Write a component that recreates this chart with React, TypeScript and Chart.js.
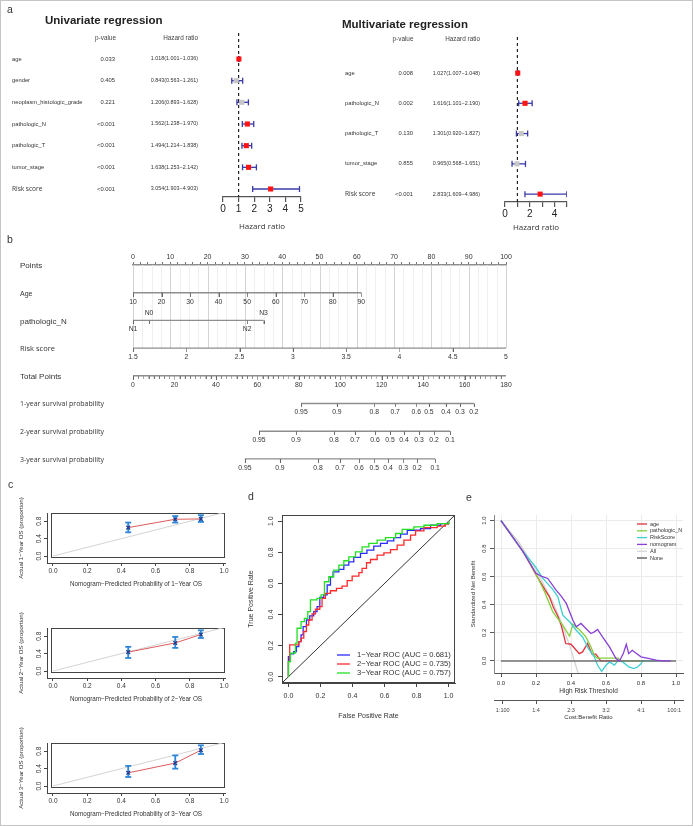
import React, { useEffect, useRef } from "react";
import { Chart, registerables } from "chart.js";

Chart.register(...registerables);

const SANS = '"Liberation Sans", Arial, Helvetica, sans-serif';
const OPEN = '"Open Sans", "Liberation Sans", sans-serif';
Chart.defaults.font.family = SANS;
Chart.defaults.color = "#333";

// ===================== a: Cox regression =====================
const HR_TICKS = [0, 1, 2, 3, 4, 5];

const UNI_VARS = ["age", "gender", "neoplasm_histologic_grade", "pathologic_N", "pathologic_T", "tumor_stage", "Risk score"];
const UNI_P = ["0.033", "0.405", "0.221", "<0.001", "<0.001", "<0.001", "<0.001"];
const UNI_HR = [1.018, 0.843, 1.206, 1.562, 1.494, 1.638, 3.054];
const UNI_LO = [1.001, 0.563, 0.893, 1.238, 1.214, 1.253, 1.903];
const UNI_HI = [1.036, 1.261, 1.628, 1.97, 1.838, 2.142, 4.903];
const UNI_SIG = [true, false, false, true, true, true, true];

const MULTI_VARS = ["age", "pathologic_N", "pathologic_T", "tumor_stage", "Risk score"];
const MULTI_P = ["0.008", "0.002", "0.130", "0.855", "<0.001"];
const MULTI_HR = [1.027, 1.616, 1.301, 0.965, 2.833];
const MULTI_LO = [1.007, 1.101, 0.92, 0.568, 1.609];
const MULTI_HI = [1.048, 2.19, 1.827, 1.651, 4.986];
const MULTI_SIG = [true, true, false, false, true];

// ===================== b: nomogram =====================
const POINTS_MAX = 100;
const POINT_TICK_STEP = 2;
const POINT_LABEL_STEP = 10;
const POINT_GRID_STEP = 2.5;
const AGE_TICKS = [10, 20, 30, 40, 50, 60, 70, 80, 90];
const AGE_MAX_POINTS = 61.2;
const PN_LEVELS = ["N1", "N0", "N2", "N3"];
const PN_POINTS = [0, 4.3, 30.6, 35];
const PN_SIDE = ["below", "above", "below", "above"];
const RISK_TICKS = [1.5, 2, 2.5, 3, 3.5, 4, 4.5, 5];
const TOTAL_MAX = 180;
const TOTAL_TICK_STEP = 2.5;
const TOTAL_LABEL_STEP = 20;
const SURV1_PROB = [0.95, 0.9, 0.8, 0.7, 0.6, 0.5, 0.4, 0.3, 0.2];
const SURV1_TP = [81.1, 98.4, 116.4, 126.5, 136.7, 142.8, 151.0, 157.8, 164.5];
const SURV2_PROB = [0.95, 0.9, 0.8, 0.7, 0.6, 0.5, 0.4, 0.3, 0.2, 0.1];
const SURV2_TP = [60.8, 78.7, 97.0, 107.1, 116.8, 124.0, 130.8, 138.0, 145.3, 153.0];
const SURV3_PROB = [0.95, 0.9, 0.8, 0.7, 0.6, 0.5, 0.4, 0.3, 0.2, 0.1];
const SURV3_TP = [54.0, 70.9, 89.3, 99.9, 109.1, 116.4, 123.1, 130.4, 137.1, 145.8];
const NOMO_ROWS = ["Points", "Age", "pathologic_N", "Risk score", "Total Points", "1-year survival probability", "2-year survival probability", "3-year survival probability"];
const NOMO_ROW_FONTS = [`8px ${SANS}`, `7px ${SANS}`, `8px ${SANS}`, `7.5px ${OPEN}`, `8px ${SANS}`, `7px ${OPEN}`, `7px ${OPEN}`, `7px ${OPEN}`];

// ===================== c: calibration =====================
const CAL_X = [0.44, 0.715, 0.865];
const CAL1_Y = [0.654, 0.846, 0.854];
const CAL1_LO = [0.546, 0.77, 0.785];
const CAL1_HI = [0.77, 0.92, 0.94];
const CAL2_Y = [0.436, 0.646, 0.84];
const CAL2_LO = [0.3, 0.533, 0.76];
const CAL2_HI = [0.557, 0.784, 0.937];
const CAL3_Y = [0.304, 0.528, 0.824];
const CAL3_LO = [0.208, 0.4, 0.736];
const CAL3_HI = [0.464, 0.704, 0.936];
const UNIT_TICKS = [0, 0.2, 0.4, 0.6, 0.8, 1.0];
const CAL_Y_TICKS = [0, 0.4, 0.8];

// ===================== d: ROC =====================
const ROC1_FPR = [0, 0, 0.0125, 0.033, 0.05, 0.065, 0.079, 0.092, 0.1125, 0.133, 0.158, 0.179, 0.196, 0.221, 0.242, 0.2625, 0.279, 0.315, 0.346, 0.377, 0.408, 0.45, 0.49, 0.533, 0.575, 0.617, 0.658, 0.7, 0.742, 0.825, 0.8875, 0.95, 1.0];
const ROC1_TPR = [0, 0.13, 0.147, 0.162, 0.194, 0.226, 0.269, 0.323, 0.365, 0.391, 0.419, 0.451, 0.511, 0.526, 0.59, 0.643, 0.675, 0.69, 0.718, 0.739, 0.767, 0.793, 0.814, 0.84, 0.857, 0.874, 0.895, 0.917, 0.942, 0.953, 0.974, 0.985, 1.0];
const ROC2_FPR = [0, 0, 0.008, 0.065, 0.079, 0.096, 0.1125, 0.127, 0.148, 0.169, 0.196, 0.21, 0.231, 0.2625, 0.3, 0.335, 0.367, 0.398, 0.44, 0.46, 0.4875, 0.5125, 0.554, 0.596, 0.6375, 0.679, 0.721, 0.7625, 0.794, 0.846, 0.929, 0.98, 1.0];
const ROC2_TPR = [0, 0.098, 0.205, 0.226, 0.248, 0.291, 0.333, 0.365, 0.404, 0.434, 0.451, 0.504, 0.536, 0.553, 0.568, 0.583, 0.618, 0.647, 0.669, 0.697, 0.733, 0.754, 0.782, 0.797, 0.818, 0.846, 0.878, 0.91, 0.938, 0.959, 0.968, 0.981, 1.0];
const ROC3_FPR = [0, 0, 0.0125, 0.044, 0.054, 0.079, 0.1, 0.121, 0.1375, 0.179, 0.204, 0.225, 0.252, 0.283, 0.315, 0.346, 0.377, 0.419, 0.46, 0.502, 0.554, 0.606, 0.669, 0.71, 0.783, 0.846, 0.929, 1.0];
const ROC3_TPR = [0, 0.098, 0.152, 0.216, 0.312, 0.355, 0.376, 0.419, 0.494, 0.504, 0.526, 0.611, 0.643, 0.686, 0.718, 0.746, 0.771, 0.803, 0.835, 0.857, 0.878, 0.895, 0.921, 0.947, 0.964, 0.974, 0.985, 1.0];
const ROC_LABELS = ["1\u2212Year ROC (AUC = 0.681)", "2\u2212Year ROC (AUC = 0.735)", "3\u2212Year ROC (AUC = 0.757)"];
const ROC_COLORS = ["#2b2bff", "#ff2b2b", "#22e022"];

// ===================== e: decision curve =====================
const DCA_AGE_X = [0, 0.12, 0.14, 0.2, 0.25, 0.277, 0.3, 0.325, 0.345, 0.359, 0.37, 0.4, 0.447, 0.466, 0.495, 0.52, 0.542, 0.57, 0.68];
const DCA_AGE_Y = [1, 0.79, 0.75, 0.615, 0.51, 0.457, 0.38, 0.319, 0.25, 0.181, 0.124, 0.119, 0.052, 0.064, 0.124, 0.048, 0.048, 0.0, 0.0];
const DCA_PN_X = [0, 0.12, 0.14, 0.2, 0.25, 0.296, 0.353, 0.392, 0.411, 0.447, 0.485, 0.514, 0.533, 0.55, 0.67, 0.68, 0.82];
const DCA_PN_Y = [1, 0.79, 0.75, 0.62, 0.49, 0.35, 0.255, 0.176, 0.262, 0.224, 0.171, 0.1, 0.04, 0.02, 0.02, 0.0, 0.0];
const DCA_RS_X = [0, 0.12, 0.2, 0.238, 0.296, 0.325, 0.353, 0.392, 0.43, 0.466, 0.485, 0.5, 0.533, 0.552, 0.575, 0.6, 0.62, 0.648, 0.667, 0.696, 0.73, 0.76, 0.78, 0.8, 0.81, 0.9];
const DCA_RS_Y = [1, 0.79, 0.667, 0.59, 0.51, 0.457, 0.326, 0.279, 0.219, 0.171, 0.124, 0.088, 0.029, -0.031, -0.075, -0.031, -0.007, -0.03, 0.0, -0.007, -0.043, -0.055, -0.043, -0.02, 0.0, 0.0];
const DCA_NOMO_X = [0, 0.12, 0.2, 0.229, 0.267, 0.315, 0.344, 0.373, 0.411, 0.43, 0.457, 0.485, 0.514, 0.533, 0.552, 0.58, 0.62, 0.657, 0.677, 0.7, 0.716, 0.73, 0.75, 0.78, 0.8, 0.848, 0.886, 0.925, 0.97];
const DCA_NOMO_Y = [1, 0.79, 0.625, 0.605, 0.588, 0.505, 0.462, 0.41, 0.29, 0.243, 0.267, 0.231, 0.195, 0.207, 0.224, 0.171, 0.1, 0.017, 0.0, 0.057, 0.119, 0.052, 0.076, 0.048, 0.029, 0.017, 0.005, 0.0, 0.0];
const DCA_ALL_X = [0, 0.1, 0.2, 0.3, 0.35, 0.4, 0.44];
const DCA_ALL_Y = [1, 0.85, 0.65, 0.41, 0.26, 0.08, -0.086];
const DCA_NONE_X = [0, 1];
const DCA_NONE_Y = [0, 0];
const DCA_LABELS = ["age", "pathologic_N", "RiskScore", "nomogram", "All", "None"];
const DCA_COLORS = ["#e3303c", "#84cf3c", "#3ccfd2", "#8a3fd8", "#d2d2d2", "#707070"];
const CB_VALUES = [0.01, 0.2, 0.4, 0.6, 0.8, 0.99];
const CB_LABELS = ["1:100", "1:4", "2:3", "3:2", "4:1", "100:1"];

// ===================== helpers =====================
const pts = (xs: number[], ys: number[]) => xs.map((x, i) => ({ x, y: ys[i] }));
const ticksAt = (vals: number[]) => (s: any) => {
  s.ticks = vals.map((v) => ({ value: v }));
};
const fixH = (h: number) => (s: any) => {
  s.height = h;
};
const fixW = (w: number) => (s: any) => {
  s.width = w;
};
const fmt1 = (v: any) => Number(v).toFixed(1);
const fmtHR = (h: number, l: number, u: number) => `${h.toFixed(3)}(${l.toFixed(3)}\u2212${u.toFixed(3)})`;

function rotYPlugin(size: number, gap: number) {
  return {
    id: "rotY",
    afterDraw(chart: any) {
      const s = chart.scales.y;
      const ctx = chart.ctx;
      ctx.save();
      ctx.font = `${size}px ${SANS}`;
      ctx.fillStyle = "#333";
      ctx.textAlign = "center";
      ctx.textBaseline = "middle";
      for (const t of s.ticks) {
        const py = s.getPixelForValue(t.value);
        ctx.save();
        ctx.translate(chart.chartArea.left - gap, py);
        ctx.rotate(-Math.PI / 2);
        ctx.fillText(fmt1(t.value), 0, 0);
        ctx.restore();
      }
      ctx.restore();
    },
  };
}

function legendPlugin(labels: string[], colors: string[], widths: number[], o: { fromRight: number; lineLen: number; textGap: number; firstY: (a: any) => number; rowH: number; size: number }) {
  return {
    id: "innerLegend",
    afterDraw(chart: any) {
      const a = chart.chartArea;
      const ctx = chart.ctx;
      ctx.save();
      ctx.font = `${o.size}px ${SANS}`;
      ctx.textBaseline = "middle";
      ctx.textAlign = "left";
      labels.forEach((lab, i) => {
        const y = o.firstY(a) + i * o.rowH;
        const x0 = a.right - o.fromRight;
        ctx.strokeStyle = colors[i];
        ctx.lineWidth = widths[i];
        ctx.beginPath();
        ctx.moveTo(x0, y);
        ctx.lineTo(x0 + o.lineLen, y);
        ctx.stroke();
        ctx.fillStyle = "#333";
        ctx.fillText(lab, x0 + o.lineLen + o.textGap, y);
      });
      ctx.restore();
    },
  };
}

const axisGrid = (tl: number) => ({ drawOnChartArea: false, tickLength: tl, tickColor: "#444", color: "#444" });

// ===================== configs =====================
function forestConfig(s: any): any {
  const datasets: any[] = [];
  datasets.push({
    data: s.hr.map((v: number, i: number) => ({ x: v, y: i })),
    showLine: false,
    pointStyle: "rect",
    pointRadius: 3.6,
    pointBorderWidth: 0,
    pointBackgroundColor: s.sig.map((g: boolean) => (g ? "#ff1212" : "#c6c6c6")),
    pointBorderColor: s.sig.map((g: boolean) => (g ? "#ff1212" : "#c6c6c6")),
  });
  s.hr.forEach((_: number, i: number) => {
    datasets.push({
      data: [
        { x: s.lo[i], y: i },
        { x: s.hi[i], y: i },
      ],
      showLine: true,
      borderColor: "#3b3ba8",
      borderWidth: 1.3,
      pointStyle: "line",
      pointRotation: 90,
      pointRadius: 3,
      pointBorderColor: "#3b3ba8",
      pointBorderWidth: 1.3,
    });
  });
  datasets.push({
    data: [
      { x: 1, y: s.yMin },
      { x: 1, y: s.yMax },
    ],
    showLine: true,
    borderColor: "#222",
    borderWidth: 1.2,
    borderDash: [3, 3],
    pointRadius: 0,
  });
  const textPlugin = {
    id: "forestText",
    afterDraw(chart: any) {
      const ctx = chart.ctx;
      const ys = chart.scales.y;
      ctx.save();
      ctx.fillStyle = "#333";
      ctx.textBaseline = "middle";
      s.vars.forEach((v: string, i: number) => {
        const y = ys.getPixelForValue(i);
        ctx.textAlign = "left";
        ctx.font = v === "Risk score" ? `6.5px ${OPEN}` : `5.8px ${SANS}`;
        ctx.fillText(v, s.cols.label, y);
        ctx.textAlign = "right";
        ctx.font = `5.8px ${SANS}`;
        ctx.fillText(s.p[i], s.cols.p, y);
        ctx.font = `5.4px ${SANS}`;
        ctx.fillText(fmtHR(s.hr[i], s.lo[i], s.hi[i]), s.cols.hr, y);
      });
      ctx.restore();
    },
  };
  return {
    type: "scatter",
    data: { datasets },
    plugins: [textPlugin],
    options: {
      animation: false,
      responsive: false,
      events: [],
      layout: { padding: s.pad, autoPadding: false },
      plugins: { legend: { display: false }, tooltip: { enabled: false } },
      scales: {
        x: {
          type: "linear",
          min: 0,
          max: 5,
          afterBuildTicks: ticksAt(HR_TICKS),
          afterFit: fixH(s.axisH),
          ticks: {
            autoSkip: false,
            maxRotation: 0,
            padding: 1,
            color: "#222",
            font: { size: 10 },
            callback: (v: any) => (s.every === 1 || Number(v) % 2 === 0 ? String(v) : ""),
          },
          grid: { drawOnChartArea: false, tickLength: 5, tickColor: "#555", lineWidth: 1.2 },
          border: { color: "#555", width: 1.2 },
          title: { display: true, text: "Hazard ratio", color: "#333", font: { size: 8, family: OPEN }, padding: { top: 0, bottom: s.titlePad } },
        },
        y: { type: "linear", display: false, min: s.yMin, max: s.yMax, reverse: true },
      },
    },
  };
}

function nomogramConfig(tick: HTMLCanvasElement, small: HTMLCanvasElement): any {
  const toPts = (tp: number) => (tp / TOTAL_MAX) * POINTS_MAX;
  const a0 = AGE_TICKS[0];
  const a1 = AGE_TICKS[AGE_TICKS.length - 1];
  const r0 = RISK_TICKS[0];
  const r1 = RISK_TICKS[RISK_TICKS.length - 1];
  const totalTicks: number[] = [];
  for (let t = 0; t <= TOTAL_MAX + 1e-9; t += TOTAL_TICK_STEP) totalTicks.push(t);
  const rows = [
    { row: 1, xs: AGE_TICKS.map((a) => ((a - a0) / (a1 - a0)) * AGE_MAX_POINTS), labels: AGE_TICKS.map(String), sides: null as any },
    { row: 2, xs: PN_POINTS, labels: PN_LEVELS, sides: PN_SIDE },
    { row: 3, xs: RISK_TICKS.map((r) => ((r - r0) / (r1 - r0)) * POINTS_MAX), labels: RISK_TICKS.map(String), sides: null },
    { row: 4, xs: totalTicks.map(toPts), labels: totalTicks.map((t) => (t % TOTAL_LABEL_STEP === 0 ? String(t) : "")), sides: null },
    { row: 5, xs: SURV1_TP.map(toPts), labels: SURV1_PROB.map(String), sides: null },
    { row: 6, xs: SURV2_TP.map(toPts), labels: SURV2_PROB.map(String), sides: null },
    { row: 7, xs: SURV3_TP.map(toPts), labels: SURV3_PROB.map(String), sides: null },
  ];
  const datasets = rows.map((r) => ({
    data: r.xs.map((x) => ({ x, y: r.row })),
    showLine: true,
    borderColor: "#8e8e8e",
    borderWidth: 1.4,
    pointStyle: r.labels.map((l) => (l === "" ? small : tick)),
    pointRadius: 3,
    tickLabels: r.labels,
    labelSides: r.sides,
  }));
  const gridPlugin = {
    id: "nomoGrid",
    beforeDatasetsDraw(chart: any) {
      const ctx = chart.ctx;
      const xs = chart.scales.x;
      const ys = chart.scales.y;
      ctx.save();
      ctx.lineWidth = 1;
      for (let v = 0; v <= POINTS_MAX + 1e-9; v += POINT_GRID_STEP) {
        const px = Math.round(xs.getPixelForValue(v)) + 0.5;
        ctx.strokeStyle = v % 10 === 0 ? "#d4d4d4" : "#efefef";
        ctx.beginPath();
        ctx.moveTo(px, ys.getPixelForValue(0));
        ctx.lineTo(px, ys.getPixelForValue(3));
        ctx.stroke();
      }
      ctx.restore();
    },
  };
  const labelPlugin = {
    id: "nomoLabels",
    afterDatasetsDraw(chart: any) {
      const ctx = chart.ctx;
      const xs = chart.scales.x;
      const ys = chart.scales.y;
      ctx.save();
      ctx.fillStyle = "#333";
      ctx.textBaseline = "middle";
      ctx.textAlign = "center";
      ctx.font = `6.8px ${SANS}`;
      chart.data.datasets.forEach((ds: any) => {
        ds.data.forEach((p: any, i: number) => {
          const lab = ds.tickLabels[i];
          if (!lab) return;
          const side = ds.labelSides ? ds.labelSides[i] : "below";
          ctx.fillText(lab, xs.getPixelForValue(p.x), ys.getPixelForValue(p.y) + (side === "above" ? -7 : 9));
        });
      });
      ctx.textAlign = "left";
      NOMO_ROWS.forEach((t, i) => {
        ctx.font = NOMO_ROW_FONTS[i];
        ctx.fillText(t, 20, ys.getPixelForValue(i) + 1);
      });
      ctx.restore();
    },
  };
  return {
    type: "scatter",
    data: { datasets },
    plugins: [gridPlugin, labelPlugin],
    options: {
      animation: false,
      responsive: false,
      events: [],
      layout: { padding: { left: 133, right: 187, top: 0, bottom: 5 }, autoPadding: false },
      plugins: { legend: { display: false }, tooltip: { enabled: false } },
      scales: {
        x: {
          type: "linear",
          position: "top",
          min: 0,
          max: POINTS_MAX,
          afterBuildTicks: (s: any) => {
            const t: any[] = [];
            for (let v = 0; v <= POINTS_MAX; v += POINT_TICK_STEP) t.push({ value: v });
            s.ticks = t;
          },
          afterFit: fixH(30),
          ticks: { autoSkip: false, maxRotation: 0, padding: 1, font: { size: 7 }, callback: (v: any) => (Number(v) % POINT_LABEL_STEP === 0 ? String(v) : "") },
          grid: { drawOnChartArea: false, tickLength: 3, tickColor: "#777" },
          border: { color: "#8e8e8e", width: 1.4 },
        },
        y: { type: "linear", display: false, min: 0, max: 7.51, reverse: true },
      },
    },
  };
}

function calConfig(year: number, ys: number[], lo: number[], hi: number[]): any {
  const datasets: any[] = [];
  datasets.push({
    data: pts(CAL_X, ys),
    showLine: false,
    pointStyle: "crossRot",
    pointRadius: 2.6,
    pointBorderColor: "#1c3d91",
    pointBorderWidth: 1.3,
  });
  CAL_X.forEach((x, i) => {
    datasets.push({
      data: [
        { x, y: lo[i] },
        { x, y: hi[i] },
      ],
      showLine: true,
      borderColor: "#2f86d9",
      borderWidth: 1.8,
      pointStyle: "line",
      pointRadius: 3,
      pointBorderColor: "#2f86d9",
      pointBorderWidth: 1.8,
    });
  });
  datasets.push({ data: pts(CAL_X, ys), showLine: true, borderColor: "#de5a5a", borderWidth: 1, pointRadius: 0 });
  datasets.push({
    data: [
      { x: 0, y: 0 },
      { x: 1, y: 1 },
    ],
    showLine: true,
    borderColor: "#d4d4d4",
    borderWidth: 1,
    pointRadius: 0,
  });
  const frame = {
    id: "calFrame",
    beforeDatasetsDraw(chart: any) {
      const { ctx, chartArea: a, scales } = chart;
      const l = Math.round(scales.x.getPixelForValue(0)) - 1.5;
      const b = Math.round(scales.y.getPixelForValue(0)) + 1.5;
      ctx.save();
      ctx.strokeStyle = "#444";
      ctx.lineWidth = 1;
      ctx.strokeRect(l, a.top + 0.5, a.right - 0.5 - l, b - a.top - 0.5);
      ctx.restore();
    },
  };
  return {
    type: "scatter",
    data: { datasets },
    plugins: [frame, rotYPlugin(6.5, 8)],
    options: {
      animation: false,
      responsive: false,
      events: [],
      layout: { padding: { left: 0, right: 10, top: 18, bottom: 0 }, autoPadding: false },
      plugins: { legend: { display: false }, tooltip: { enabled: false } },
      scales: {
        x: {
          type: "linear",
          min: -0.035,
          max: 1.006,
          afterBuildTicks: ticksAt(UNIT_TICKS),
          afterFit: fixH(32),
          ticks: { autoSkip: false, maxRotation: 0, padding: 1, font: { size: 6.5 }, callback: fmt1 },
          grid: axisGrid(3),
          border: { color: "#444" },
          title: { display: true, text: `Nomogram\u2212Predicted Probability of ${year}\u2212Year OS`, font: { size: 6.3 }, padding: { top: 0, bottom: 7.2 } },
        },
        y: {
          type: "linear",
          min: -0.16,
          max: 0.99,
          afterBuildTicks: ticksAt(CAL_Y_TICKS),
          afterFit: fixW(47),
          ticks: { display: false },
          grid: axisGrid(3),
          border: { color: "#444" },
          title: { display: true, text: `Actual ${year}\u2212Year OS (proportion)`, font: { size: 6.1 }, padding: { top: 18, bottom: 0 } },
        },
      },
    },
  };
}

function rocConfig(): any {
  const curves = [
    { x: ROC3_FPR, y: ROC3_TPR, c: ROC_COLORS[2] },
    { x: ROC2_FPR, y: ROC2_TPR, c: ROC_COLORS[1] },
    { x: ROC1_FPR, y: ROC1_TPR, c: ROC_COLORS[0] },
  ];
  const datasets: any[] = curves.map((k) => ({ data: pts(k.x, k.y), showLine: true, stepped: "before", borderColor: k.c, borderWidth: 1.3, pointRadius: 0 }));
  datasets.push({
    data: [
      { x: -0.04, y: -0.04 },
      { x: 1.04, y: 1.04 },
    ],
    showLine: true,
    borderColor: "#333",
    borderWidth: 1,
    pointRadius: 0,
  });
  const frame = {
    id: "rocFrame",
    afterDatasetsDraw(chart: any) {
      const { ctx, chartArea: a } = chart;
      ctx.save();
      ctx.strokeStyle = "#444";
      ctx.lineWidth = 1;
      ctx.strokeRect(a.left + 0.5, a.top + 0.5, a.right - a.left - 1, a.bottom - a.top - 1);
      ctx.restore();
    },
  };
  return {
    type: "scatter",
    data: { datasets },
    plugins: [
      frame,
      rotYPlugin(7, 11),
      legendPlugin(ROC_LABELS, ROC_COLORS, [1.3, 1.3, 1.3], { fromRight: 118, lineLen: 13, textGap: 7, firstY: (a: any) => a.bottom - 28, rowH: 9, size: 7.6 }),
    ],
    options: {
      animation: false,
      responsive: false,
      events: [],
      layout: { padding: { left: 0, right: 15, top: 15, bottom: 0 }, autoPadding: false },
      plugins: { legend: { display: false }, tooltip: { enabled: false } },
      scales: {
        x: {
          type: "linear",
          min: -0.04,
          max: 1.04,
          afterBuildTicks: ticksAt(UNIT_TICKS),
          afterFit: fixH(47),
          ticks: { autoSkip: false, maxRotation: 0, padding: 5, font: { size: 7 }, callback: fmt1 },
          grid: axisGrid(4),
          border: { color: "#444" },
          title: { display: true, text: "False Positive Rate", font: { size: 7 }, padding: { top: 0, bottom: 9.8 } },
        },
        y: {
          type: "linear",
          min: -0.04,
          max: 1.04,
          afterBuildTicks: ticksAt(UNIT_TICKS),
          afterFit: fixW(42),
          ticks: { display: false },
          grid: axisGrid(4),
          border: { color: "#444" },
          title: { display: true, text: "True Positive Rate", font: { size: 7 }, padding: { top: 6.8, bottom: 0 } },
        },
      },
    },
  };
}

function dcaConfig(): any {
  const series = [
    { x: DCA_AGE_X, y: DCA_AGE_Y, i: 0, w: 1.3, order: 4 },
    { x: DCA_PN_X, y: DCA_PN_Y, i: 1, w: 1.3, order: 3 },
    { x: DCA_RS_X, y: DCA_RS_Y, i: 2, w: 1.3, order: 2 },
    { x: DCA_NOMO_X, y: DCA_NOMO_Y, i: 3, w: 1.3, order: 0 },
    { x: DCA_ALL_X, y: DCA_ALL_Y, i: 4, w: 1.2, order: 5 },
    { x: DCA_NONE_X, y: DCA_NONE_Y, i: 5, w: 1.6, order: 1 },
  ];
  const datasets = series.map((s) => ({ data: pts(s.x, s.y), showLine: true, borderColor: DCA_COLORS[s.i], borderWidth: s.w, pointRadius: 0, order: s.order }));
  return {
    type: "scatter",
    data: { datasets },
    plugins: [
      rotYPlugin(6, 10),
      legendPlugin(DCA_LABELS, DCA_COLORS, [1.3, 1.3, 1.3, 1.3, 1.2, 1.6], { fromRight: 46, lineLen: 10, textGap: 3, firstY: (a: any) => a.top + 9, rowH: 6.8, size: 5.5 }),
    ],
    options: {
      animation: false,
      responsive: false,
      events: [],
      layout: { padding: { left: 0, right: 10, top: 15, bottom: 0 }, autoPadding: false },
      plugins: { legend: { display: false }, tooltip: { enabled: false } },
      scales: {
        x: {
          type: "linear",
          position: "bottom",
          min: -0.04,
          max: 1.04,
          afterBuildTicks: ticksAt(UNIT_TICKS),
          afterFit: fixH(27),
          ticks: { autoSkip: false, maxRotation: 0, padding: 3, font: { size: 6 }, callback: fmt1 },
          grid: { color: "#ebebeb", tickColor: "#555", tickLength: 4 },
          border: { color: "#555" },
          title: { display: true, text: "High Risk Threshold", font: { size: 6.5 }, padding: { top: 0, bottom: 5.1 } },
        },
        x2: {
          type: "linear",
          position: "bottom",
          min: -0.04,
          max: 1.04,
          afterBuildTicks: ticksAt(CB_VALUES),
          afterFit: fixH(30),
          ticks: { autoSkip: false, maxRotation: 0, padding: 3, color: "#444", font: { size: 5.5 }, callback: (_v: any, i: number) => CB_LABELS[i] },
          grid: { drawOnChartArea: false, tickColor: "#555", tickLength: 4 },
          border: { color: "#555" },
          title: { display: true, text: "Cost:Benefit Ratio", font: { size: 6 }, padding: { top: 0, bottom: 9.4 } },
        },
        y: {
          type: "linear",
          min: -0.086,
          max: 1.04,
          afterBuildTicks: ticksAt(UNIT_TICKS),
          afterFit: fixW(24),
          ticks: { display: false },
          grid: { color: "#ebebeb", tickColor: "#555", tickLength: 4 },
          border: { color: "#888" },
          title: { display: true, text: "Standardized Net Benefit", font: { size: 6 }, padding: { top: 0, bottom: 0 } },
        },
      },
    },
  };
}

function makeTick(len: number, color: string) {
  const c = document.createElement("canvas");
  c.width = 2;
  c.height = len * 2;
  const g = c.getContext("2d")!;
  g.fillStyle = color;
  g.fillRect(1, len, 1, len);
  return c;
}

// ===================== layout =====================
const W = 693;
type Box = { left: number; top: number; width: number; height: number };
const BOX_A1: Box = { left: 0, top: 0, width: 340, height: 235 };
const BOX_A2: Box = { left: 340, top: 0, width: 353, height: 235 };
const BOX_B: Box = { left: 0, top: 235, width: 693, height: 243 };
const BOX_C: Box[] = [
  { left: 0, top: 495, width: 235, height: 100 },
  { left: 0, top: 610, width: 235, height: 100 },
  { left: 0, top: 725, width: 235, height: 100 },
];
const BOX_D: Box = { left: 240, top: 500, width: 230, height: 230 };
const BOX_E: Box = { left: 470, top: 500, width: 223, height: 230 };

function Txt(p: { x: number; y: number; size: number; text: string; bold?: boolean; align?: "left" | "right" | "center"; family?: string; color?: string }) {
  const st: any = {
    position: "absolute",
    top: p.y - p.size * 0.53,
    fontSize: p.size,
    lineHeight: `${p.size}px`,
    fontFamily: p.family || SANS,
    fontWeight: p.bold ? 700 : 400,
    color: p.color || "#333",
    whiteSpace: "nowrap",
  };
  if (p.align === "right") st.right = W - p.x;
  else if (p.align === "center") {
    st.left = p.x;
    st.transform = "translateX(-50%)";
  } else st.left = p.x;
  return <div style={st}>{p.text}</div>;
}

function Cv(p: { box: Box; cref: any }) {
  const b = p.box;
  return <canvas ref={p.cref} width={b.width} height={b.height} style={{ position: "absolute", left: b.left, top: b.top, width: b.width, height: b.height }} />;
}

export default function App() {
  const a1 = useRef<HTMLCanvasElement>(null);
  const a2 = useRef<HTMLCanvasElement>(null);
  const b = useRef<HTMLCanvasElement>(null);
  const c1 = useRef<HTMLCanvasElement>(null);
  const c2 = useRef<HTMLCanvasElement>(null);
  const c3 = useRef<HTMLCanvasElement>(null);
  const d = useRef<HTMLCanvasElement>(null);
  const e = useRef<HTMLCanvasElement>(null);

  useEffect(() => {
    const charts: Chart[] = [];
    const tick = makeTick(4, "#666");
    const small = makeTick(3, "#777");
    charts.push(
      new Chart(
        a1.current!,
        forestConfig({
          vars: UNI_VARS, p: UNI_P, hr: UNI_HR, lo: UNI_LO, hi: UNI_HI, sig: UNI_SIG,
          yMin: -1.2, yMax: 6.37, pad: { left: 223, right: 39, top: 33, bottom: 0 }, axisH: 38, titlePad: 3.2, every: 1,
          cols: { label: 12, p: 115, hr: 198 },
        })
      )
    );
    charts.push(
      new Chart(
        a2.current!,
        forestConfig({
          vars: MULTI_VARS, p: MULTI_P, hr: MULTI_HR, lo: MULTI_LO, hi: MULTI_HI, sig: MULTI_SIG,
          yMin: -1.19, yMax: 4.26, pad: { left: 165, right: 126, top: 37, bottom: 0 }, axisH: 33, titlePad: 2.2, every: 2,
          cols: { label: 5, p: 73, hr: 140 },
        })
      )
    );
    charts.push(new Chart(b.current!, nomogramConfig(tick, small)));
    charts.push(new Chart(c1.current!, calConfig(1, CAL1_Y, CAL1_LO, CAL1_HI)));
    charts.push(new Chart(c2.current!, calConfig(2, CAL2_Y, CAL2_LO, CAL2_HI)));
    charts.push(new Chart(c3.current!, calConfig(3, CAL3_Y, CAL3_LO, CAL3_HI)));
    charts.push(new Chart(d.current!, rocConfig()));
    charts.push(new Chart(e.current!, dcaConfig()));
    return () => charts.forEach((ch) => ch.destroy());
  }, []);

  return (
    <div style={{ position: "absolute", left: 0, top: 0, width: W, height: 826, background: "#fff", overflow: "hidden" }}>
      <Cv box={BOX_A1} cref={a1} />
      <Cv box={BOX_A2} cref={a2} />
      <Cv box={BOX_B} cref={b} />
      <Cv box={BOX_C[0]} cref={c1} />
      <Cv box={BOX_C[1]} cref={c2} />
      <Cv box={BOX_C[2]} cref={c3} />
      <Cv box={BOX_D} cref={d} />
      <Cv box={BOX_E} cref={e} />

      <Txt x={7} y={10} size={10.5} text="a" />
      <Txt x={7} y={240} size={10.5} text="b" />
      <Txt x={8} y={485} size={10.5} text="c" />
      <Txt x={248} y={497} size={10.5} text="d" />
      <Txt x={466} y={498} size={10.5} text="e" />

      <Txt x={45} y={21} size={11.5} bold text="Univariate regression" color="#222" />
      <Txt x={105.5} y={38} size={6.4} align="center" text="p-value" color="#444" />
      <Txt x={198} y={38} size={6.4} align="right" text="Hazard ratio" color="#444" />

      <Txt x={342} y={25} size={11.5} bold text="Multivariate regression" color="#222" />
      <Txt x={403} y={39} size={6.4} align="center" text="p-value" color="#444" />
      <Txt x={480} y={39} size={6.4} align="right" text="Hazard ratio" color="#444" />

      <div style={{ position: "absolute", left: 0, top: 0, width: W, height: 826, boxSizing: "border-box", border: "1px solid #c4c4c4", pointerEvents: "none" }} />
    </div>
  );
}
